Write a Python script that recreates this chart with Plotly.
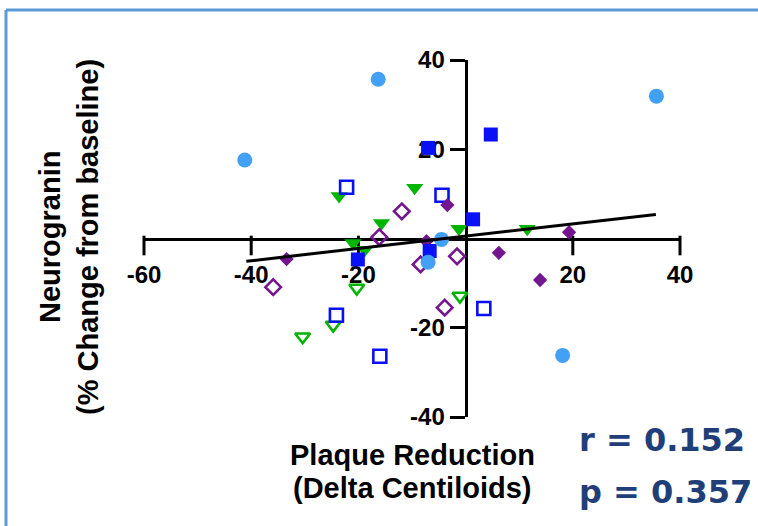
import plotly.graph_objects as go

# ---- data ----
circle_x = [-16.3, -41.2, 35.6, -4.5, -7.0, 18.1]
circle_y = [35.7, 17.6, 31.9, -0.2, -5.3, -26.2]

sq_fill_x = [-7.0, 4.7, 1.4, -20.1, -6.7]
sq_fill_y = [20.3, 23.3, 4.3, -4.7, -2.8]

sq_open_x = [-22.2, -4.4, -24.1, -16.0, 3.4]
sq_open_y = [11.5, 9.7, -17.2, -26.4, -15.7]

tri_fill_x = [-23.6, -9.5, -15.7, -21.0, -1.25, 11.5, -18.8]
tri_fill_y = [9.5, 11.4, 3.5, -1.0, 2.2, 2.2, -2.5]

tri_open_x = [-20.3, -24.7, -30.4, -1.06]
tri_open_y = [-11.1, -19.4, -22.0, -12.9]

dia_fill_x = [-3.4, -33.4, 6.2, 19.3, 13.9, -7.3]
dia_fill_y = [7.5, -4.6, -3.2, 1.4, -9.3, -0.6]

dia_open_x = [-11.9, -16.1, -35.9, -8.4, -1.6, -3.9]
dia_open_y = [6.1, 0.3, -10.9, -5.8, -4.0, -15.5]

fit_x = [-40.9, 35.5]
fit_y = [-5.1, 5.4]

x_ticks = [-60, -40, -20, 20, 40]
y_ticks = [-40, -20, 20, 40]

stats_r = "r = 0.152"
stats_p = "p = 0.357"

# ---- styles ----
LBLUE = "#42A0F5"
BLUE = "#0A10F5"
GREEN = "#00B400"
PURPLE = "#74168F"
NAVY = "#203F78"

X_RANGE = [-60, 40]
Y_RANGE = [-40, 40]
W, H = 758, 526
M = dict(l=144, r=78, t=60, b=109)
PLOT_H = H - M["t"] - M["b"]
TICK_LEN_PX = 14

fig = go.Figure()

# x-axis tick marks: vertical line markers hanging below the axis at y = 0
tick_units = TICK_LEN_PX * (Y_RANGE[1] - Y_RANGE[0]) / PLOT_H
fig.add_trace(go.Scatter(
    x=x_ticks, y=[-tick_units / 2] * len(x_ticks), mode="markers",
    marker=dict(symbol="line-ns", size=TICK_LEN_PX, color="black",
                line=dict(color="black", width=3)),
    cliponaxis=False, showlegend=False, hoverinfo="skip"))

def add(x, y, symbol, color, size, open_=False):
    if open_:
        marker = dict(symbol=symbol + "-open", size=size, color=color,
                      line=dict(color=color, width=2.6))
    else:
        marker = dict(symbol=symbol, size=size, color=color, line=dict(width=0))
    fig.add_trace(go.Scatter(x=x, y=y, mode="markers", marker=marker,
                             cliponaxis=False, showlegend=False, hoverinfo="skip"))

add(tri_fill_x, tri_fill_y, "triangle-down", GREEN, 15)
add(tri_open_x, tri_open_y, "triangle-down", GREEN, 13, True)
add(dia_open_x, dia_open_y, "diamond", PURPLE, 12, True)
add(sq_open_x, sq_open_y, "square", BLUE, 13, True)
add(dia_fill_x, dia_fill_y, "diamond", PURPLE, 11)
add(sq_fill_x, sq_fill_y, "square", BLUE, 14)
add(circle_x, circle_y, "circle", LBLUE, 15)

fig.add_trace(go.Scatter(x=fit_x, y=fit_y, mode="lines",
                         line=dict(color="black", width=3),
                         showlegend=False, hoverinfo="skip"))

tickfont = dict(family="Liberation Sans", size=24, color="black", weight="bold")

# fractions where the axes cross (value 0 on the other axis)
x_zero_frac = (0 - X_RANGE[0]) / (X_RANGE[1] - X_RANGE[0])
y_zero_frac = (0 - Y_RANGE[0]) / (Y_RANGE[1] - Y_RANGE[0])

fig.update_layout(
    width=W, height=H,
    margin=M,
    paper_bgcolor="white", plot_bgcolor="rgba(0,0,0,0)",
    xaxis=dict(range=X_RANGE, anchor="free", position=y_zero_frac,
               showline=True, linecolor="black", linewidth=3,
               ticks="",
               tickvals=x_ticks, ticktext=[str(v) for v in x_ticks],
               tickfont=tickfont, showgrid=False, zeroline=False,
               layer="below traces", ticklabelstandoff=14),
    yaxis=dict(range=Y_RANGE, anchor="free", position=x_zero_frac,
               showline=True, linecolor="black", linewidth=3,
               ticks="outside", ticklen=15, tickwidth=3, tickcolor="black",
               tickvals=y_ticks, ticktext=[str(v) for v in y_ticks],
               tickfont=tickfont, showgrid=False, zeroline=False,
               layer="below traces", ticklabelstandoff=0),
)

def px(xp):
    return (xp - M["l"]) / (W - M["l"] - M["r"])

def py(yp):
    return (H - M["b"] - yp) / PLOT_H

labfont = dict(family="Liberation Sans", size=29, color="black", weight="bold")
ylabfont = dict(family="Liberation Sans", size=29, color="black", weight="bold")
statfont = dict(family="DejaVu Sans", size=32, color=NAVY, weight="bold")

ann = [
    dict(text="Plaque Reduction", x=px(412), y=py(455), font=labfont,
         xanchor="center", yanchor="middle"),
    dict(text="(Delta Centiloids)", x=px(412), y=py(488), font=labfont,
         xanchor="center", yanchor="middle"),
    dict(text="Neurogranin", x=px(50), y=py(237), font=ylabfont, textangle=-90,
         xanchor="center", yanchor="middle"),
    dict(text="(% Change from baseline)", x=px(88), y=py(237), font=ylabfont,
         textangle=-90, xanchor="center", yanchor="middle"),
    dict(text=stats_r, x=px(577), y=py(440), font=statfont,
         xanchor="left", yanchor="middle"),
    dict(text=stats_p, x=px(577), y=py(492), font=statfont,
         xanchor="left", yanchor="middle"),
]
for a in ann:
    a.update(xref="paper", yref="paper", showarrow=False)
fig.update_layout(annotations=ann)

fig.add_shape(type="line", xref="paper", yref="paper",
              x0=px(6), x1=px(800), y0=py(10), y1=py(10),
              line=dict(color="#5B9BD5", width=3))
fig.add_shape(type="line", xref="paper", yref="paper",
              x0=px(6), x1=px(6), y0=py(10), y1=py(560),
              line=dict(color="#5B9BD5", width=3))

fig.write_html("out.html")
